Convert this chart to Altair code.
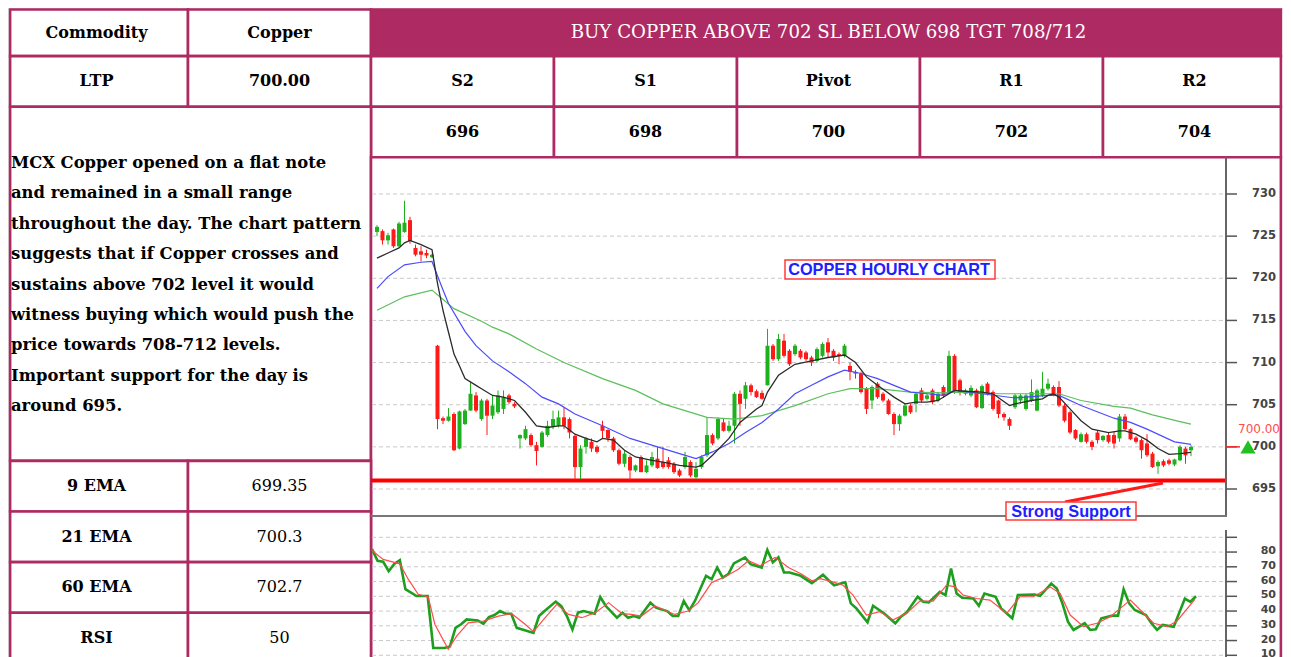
import altair as alt
import pandas as pd

# ---------------- data ----------------
OPEN = [725.5, 725.6, 724.5, 725.8, 723.8, 725.5, 726.9, 723.6, 723.2, 723.0,
        722.5, 712.0, 703.4, 703.1, 703.9, 699.8, 702.7, 704.3, 706.1, 703.3,
        705.5, 703.7, 704.1, 704.5, 706.1, 705.1, 701.0, 701.0, 701.4, 700.2,
        700.0, 701.4, 702.4, 702.5, 703.5, 703.3, 701.3, 697.6, 700.0, 700.6,
        700.0, 702.5, 702.0, 701.0, 699.6, 698.0, 698.8, 697.2, 698.8, 697.0,
        697.8, 698.6, 698.2, 698.4, 698.0, 697.2, 697.6, 698.2, 696.4, 697.6,
        699.0, 701.4, 701.0, 702.9, 701.9, 702.5, 706.3, 705.7, 707.3, 706.6,
        706.4, 707.3, 712.0, 710.4, 712.6, 711.4, 711.0, 711.4, 711.2, 710.6,
        710.2, 710.8, 712.4, 711.4, 711.0, 710.8, 709.6, 708.9, 708.7, 706.9,
        705.5, 707.5, 706.3, 705.5, 703.9, 702.7, 703.7, 704.9, 705.1, 706.7,
        705.7, 706.7, 705.5, 707.1, 706.5, 710.8, 707.9, 706.3, 706.1, 706.7,
        704.6, 707.5, 706.5, 705.5, 703.9, 703.3, 704.7, 705.5, 704.5, 705.5,
        704.3, 706.1, 706.9, 707.1, 707.1, 704.9, 704.1, 702.0, 700.6, 701.5,
        700.6, 701.7, 700.8, 701.4, 701.4, 701.0, 703.6, 702.1, 701.1, 700.8,
        700.4, 699.2, 697.7, 698.3, 698.4, 697.9, 698.4, 699.8, 699.6]
HIGH = [726.3, 725.8, 725.4, 725.9, 726.7, 729.2, 727.3, 724.0, 723.8, 723.4,
        722.9, 712.1, 703.6, 704.6, 704.1, 704.3, 704.5, 707.7, 706.5, 705.7,
        705.7, 706.1, 706.7, 706.7, 706.3, 705.3, 701.5, 702.5, 701.6, 700.6,
        701.9, 703.1, 704.3, 704.3, 704.7, 703.5, 701.5, 700.2, 701.2, 701.0,
        700.2, 703.1, 702.1, 701.2, 699.8, 699.6, 699.0, 697.9, 699.0, 698.4,
        699.4, 700.0, 700.0, 698.8, 698.2, 697.4, 699.4, 698.4, 698.2, 699.0,
        703.5, 701.6, 703.5, 703.3, 703.1, 706.5, 706.7, 707.7, 707.5, 706.8,
        706.7, 714.0, 712.2, 713.4, 713.4, 711.6, 712.2, 711.6, 711.4, 710.8,
        711.8, 712.4, 712.9, 711.6, 711.2, 712.2, 710.0, 709.1, 708.9, 707.1,
        707.3, 707.7, 706.5, 705.7, 704.1, 703.9, 705.1, 705.1, 706.5, 707.0,
        706.3, 706.9, 706.5, 707.3, 711.4, 711.0, 708.1, 706.9, 707.3, 706.9,
        707.4, 707.7, 706.7, 705.6, 704.1, 703.5, 706.3, 706.3, 706.3, 708.0,
        706.9, 708.9, 708.1, 707.3, 707.8, 705.1, 704.3, 702.1, 701.7, 701.7,
        700.8, 701.9, 701.4, 701.7, 701.8, 703.9, 703.9, 702.2, 701.3, 701.0,
        701.5, 699.4, 698.4, 698.5, 698.6, 698.6, 700.2, 700.0, 700.2]
LOW = [725.0, 724.0, 724.0, 723.6, 723.7, 725.4, 724.1, 722.6, 722.0, 722.4,
       722.4, 702.1, 702.7, 703.0, 699.5, 699.7, 702.6, 704.3, 704.1, 703.1,
       701.4, 703.3, 703.9, 703.9, 705.1, 704.6, 699.8, 700.8, 700.0, 697.8,
       699.9, 701.2, 702.1, 702.3, 702.1, 701.0, 696.2, 696.2, 699.2, 699.4,
       699.2, 701.0, 700.6, 699.4, 697.8, 697.6, 696.0, 697.0, 697.0, 696.9,
       697.6, 697.4, 697.4, 697.4, 696.8, 696.4, 697.4, 696.4, 696.2, 697.4,
       698.8, 700.2, 700.8, 701.8, 701.7, 700.4, 702.5, 704.5, 706.1, 705.8,
       705.6, 707.3, 710.2, 710.2, 710.6, 709.6, 710.8, 710.4, 710.2, 709.6,
       710.0, 710.6, 710.6, 710.2, 709.8, 710.6, 707.9, 708.1, 706.3, 703.9,
       704.5, 705.7, 705.3, 703.8, 701.4, 701.9, 703.6, 703.9, 704.1, 705.3,
       705.5, 705.1, 705.3, 705.8, 706.3, 706.3, 706.1, 706.1, 705.9, 704.6,
       704.5, 706.1, 704.3, 703.4, 703.1, 702.0, 704.5, 705.1, 704.3, 705.3,
       704.2, 705.9, 706.7, 706.0, 704.7, 702.9, 701.5, 700.8, 700.5, 700.4,
       699.6, 700.4, 700.6, 700.4, 699.8, 700.6, 702.0, 700.8, 700.4, 698.6,
       698.8, 697.5, 696.8, 697.6, 697.8, 697.7, 698.3, 698.0, 698.9]
CLOSE = [726.1, 724.5, 725.1, 723.8, 726.5, 726.6, 724.4, 722.8, 722.8, 722.7,
         722.8, 703.3, 703.1, 703.6, 699.6, 704.2, 704.3, 706.3, 704.3, 705.5,
         703.7, 704.9, 706.1, 705.9, 705.3, 704.8, 701.4, 702.1, 700.2, 699.5,
         701.7, 702.5, 703.3, 703.5, 702.5, 701.7, 697.6, 699.8, 701.0, 699.8,
         699.4, 701.9, 701.0, 699.6, 698.0, 699.2, 697.2, 697.8, 697.0, 697.8,
         698.8, 697.5, 697.6, 697.6, 697.0, 696.6, 698.8, 696.6, 697.4, 698.8,
         701.4, 700.4, 703.3, 701.9, 702.5, 706.3, 705.1, 707.3, 706.5, 705.9,
         705.7, 712.0, 710.4, 712.8, 710.8, 709.8, 712.0, 710.6, 710.4, 710.0,
         711.6, 712.2, 711.2, 710.6, 710.8, 712.0, 708.9, 708.7, 706.5, 704.5,
         707.1, 705.9, 705.5, 703.9, 702.7, 703.7, 704.9, 704.1, 706.3, 705.5,
         706.1, 705.3, 706.3, 706.1, 710.8, 706.7, 706.5, 706.7, 707.0, 704.7,
         707.2, 706.3, 704.5, 703.9, 703.5, 702.5, 706.1, 706.1, 706.1, 706.5,
         706.7, 706.9, 707.5, 706.1, 704.9, 703.1, 701.7, 701.0, 701.5, 700.6,
         700.0, 700.8, 701.3, 700.6, 700.4, 703.6, 702.1, 700.9, 700.6, 699.6,
         699.0, 697.6, 698.2, 697.8, 698.0, 698.5, 700.0, 699.0, 700.0]

EMA9_IDX = [0, 2, 4, 5, 6, 8, 10, 11, 12, 13, 14, 15, 16, 18, 19, 21, 23, 25, 27, 29,
            31, 33, 34, 36, 38, 40, 41, 43, 45, 47, 50, 52, 55, 58, 59, 61, 64, 66, 69, 70,
            71, 73, 76, 79, 82, 85, 87, 89, 91, 94, 96, 98, 100, 102, 104, 105, 107, 110, 112, 115,
            116, 119, 121, 122, 123, 124, 126, 128, 130, 133, 135, 136, 138, 140, 142, 144, 146, 148]
EMA9 = [722.4, 723.0, 723.6, 724.2, 724.5, 724.0, 723.4, 719.4, 716.2, 713.6, 711.0, 709.6, 708.1, 707.3, 706.9, 706.1, 705.9, 705.5, 704.1, 702.5,
        702.3, 702.5, 702.5, 701.5, 701.0, 700.6, 701.0, 700.8, 699.6, 698.8, 698.4, 698.2, 697.8, 697.6, 697.8, 699.0, 701.0, 702.9, 704.5, 704.9,
        706.5, 708.5, 709.8, 710.2, 710.6, 710.9, 710.0, 708.3, 707.3, 705.9, 705.1, 705.3, 705.3, 705.5, 706.3, 706.7, 706.6, 706.5, 706.3, 704.9,
        705.1, 705.5, 705.7, 706.1, 706.3, 705.9, 704.5, 703.1, 702.1, 701.7, 701.9, 701.9, 701.5, 700.8, 699.8, 699.1, 699.2, 699.35]

EMA21_IDX = [0, 2, 5, 8, 10, 11, 12, 13, 16, 18, 21, 24, 27, 30, 33, 36, 41, 46, 51, 55,
             58, 61, 64, 67, 70, 73, 76, 79, 82, 85, 88, 91, 94, 97, 100, 103, 105, 110, 116, 122,
             124, 128, 134, 137, 140, 145, 148]
EMA21 = [718.8, 720.2, 721.6, 721.9, 722.0, 720.3, 718.6, 717.0, 713.7, 712.0, 710.2, 708.9, 707.5, 705.9, 705.1, 703.9, 702.5, 701.0, 700.0, 699.2,
         698.6, 699.4, 700.4, 701.7, 702.9, 704.5, 706.3, 707.3, 708.3, 709.1, 708.7, 708.1, 707.3, 706.5, 706.3, 706.1, 706.7, 706.3, 705.8, 706.1,
         706.1, 704.9, 703.4, 702.9, 702.1, 700.6, 700.3]

EMA60_IDX = [0, 5, 10, 14, 19, 21, 24, 29, 34, 41, 47, 52, 56, 60, 65, 70, 76, 82, 86, 91,
             97, 103, 105, 113, 124, 128, 134, 137, 141, 146, 148]
EMA60 = [716.2, 717.8, 718.6, 716.4, 714.9, 714.2, 713.4, 711.6, 710.0, 708.1, 706.7, 705.1, 704.3, 703.5, 703.3, 703.7, 704.9, 706.3, 706.9, 706.9,
         706.5, 706.4, 706.5, 706.3, 706.3, 705.5, 704.8, 704.6, 703.8, 703.0, 702.7]

RSI_IDX = [0, 1, 2, 3, 4, 5, 6, 8, 10, 11, 13, 14, 15, 16, 17, 19, 20, 21, 22, 23,
           24, 25, 26, 27, 29, 30, 31, 33, 34, 35, 36, 37, 38, 40, 41, 42, 44, 45, 46, 47,
           48, 50, 51, 53, 54, 55, 56, 57, 58, 60, 61, 62, 63, 64, 65, 67, 68, 70, 71, 72,
           73, 74, 75, 77, 79, 81, 82, 83, 85, 86, 87, 89, 90, 92, 94, 95, 96, 98, 99, 100,
           102, 103, 104, 105, 106, 108, 109, 110, 112, 113, 115, 116, 119, 120, 122, 123, 124, 125, 126, 128,
           129, 130, 131, 133, 134, 135, 136, 137, 139, 140, 141, 142, 144, 146, 147, 148]
RSI = [82, 74, 73.4, 67, 72, 74.5, 54.8, 50.2, 50.2, 15, 15, 16, 28.6, 31, 34.3, 33.6, 31.4, 35.9, 37.3, 40,
       38.2, 38.2, 28.6, 27.5, 25.2, 36.6, 40, 46.4, 43.4, 36.6, 27.5, 38.9, 40, 38.2, 49.5, 43.4, 35.5, 38.9, 35.5, 36.6,
       35.5, 45.7, 42.3, 40, 36.6, 36.6, 46.8, 40.5, 46.8, 63.9, 61.6, 69.5, 62.7, 65, 72.3, 76.4, 71.8, 69.5, 81.4, 73,
       76.4, 66.1, 66.1, 63.9, 58.9, 64.7, 60.9, 57.5, 59.5, 45.2, 41.8, 32.4, 43.6, 38.4, 31.7, 36.2, 38.9, 49.7, 46.3, 45.8,
       53, 50.8, 68.8, 51.9, 49, 48.5, 43.6, 51.9, 49.7, 41.8, 35.1, 50.8, 51.2, 50.3, 58.7, 55.3, 45.2, 32.8, 27.2, 31.7,
       27.2, 27.6, 35.1, 36.9, 36.9, 54.8, 45.2, 40.7, 37.3, 31.7, 27.2, 30.6, 29.4, 48.5, 46.3, 50]

RSI_SIG_IDX = [0, 2, 5, 6.5, 8.3, 10.1, 11.3, 13.7, 15.2, 17.3, 20, 22.7, 25.1, 27.5, 29, 31.1, 33.2, 35.3, 37.7, 40.1,
               42.5, 44.9, 46.6, 48.4, 50.8, 54.4, 56.8, 58.6, 61, 63.4, 65.8, 67.6, 69.7, 72.4, 74.8, 77.2, 79, 80.5, 82.8, 84.6,
               86.4, 88.8, 91.2, 93.6, 96, 98.4, 100.8, 103.2, 104.7, 106.2, 108.6, 111, 114, 116.4, 118.8, 121.8, 123.6, 125.4, 127.8, 130.2,
               132.6, 134.4, 136.2, 138, 140.4, 142.8, 144.6, 147.8]
RSI_SIG = [81, 75, 72, 61.6, 51.4, 49.5, 30.9, 14, 23, 32, 33.2, 36.6, 38.2, 31, 26, 35.5, 44.5, 37.7, 35.5, 38.9,
           45.7, 38.2, 37.7, 36.6, 43.4, 37.7, 40, 45.7, 59.3, 63.2, 68.4, 74.1, 70.7, 76.4, 69.5, 65, 60.5, 62, 59.8, 57.5,
           50.8, 37.3, 39.6, 34, 38.4, 46.7, 46.7, 57.5, 56.4, 50.8, 48.5, 47.4, 38.4, 49.7, 49.7, 56.4, 51.9, 37.3, 29.4, 31.7,
           36.2, 41.8, 47.4, 40.7, 31.7, 29.4, 33.3, 47.9]

PRICE_TICKS = [695, 700, 705, 710, 715, 720, 725, 730]
RSI_GRID = [10, 20, 30, 40, 50, 60, 70, 80, 90]
RSI_LABELS = [10, 20, 30, 40, 50, 60, 70, 80]
SUPPORT_LEVEL = 696
LTP = 700.00

HEADER = "BUY COPPER ABOVE 702 SL BELOW 698 TGT 708/712"
TOP_LABELS = ["Commodity", "Copper", "LTP", "700.00"]
LEVEL_NAMES = ["S2", "S1", "Pivot", "R1", "R2"]
LEVEL_VALUES = ["696", "698", "700", "702", "704"]
IND_NAMES = ["9 EMA", "21 EMA", "60 EMA", "RSI"]
IND_VALUES = ["699.35", "700.3", "702.7", "50"]
PARAGRAPH = [
    "MCX Copper opened on a flat note",
    "and remained in a small range",
    "throughout the day. The chart pattern",
    "suggests that if Copper crosses and",
    "sustains above 702 level it would",
    "witness buying which would push the",
    "price towards 708-712 levels.",
    "Important support for the day is",
    "around 695.",
]
CHART_TITLE = "COPPER HOURLY CHART"
SUPPORT_TEXT = "Strong Support"

# ---------------- layout / style ----------------
S = 8  # page margin: canvas px = page px - 8


def P(v):
    return v - S


W, H = 1275, 649
MAG = "#AE2A62"
SERIF = "DejaVu Serif"
SANS = "DejaVu Sans"
UP, DOWN = "#1fb01f", "#ff1a1a"

# table grid (columns 0..7, rows 0..13); outer edges pulled inside the canvas
LEFT_EDGE, RIGHT_EDGE, TOP_EDGE = 0.028, 6.972, 0.08
gx = alt.Scale(domain=[0, 7], range=[P(5), P(1286)], nice=False, zero=False)
gy = alt.Scale(domain=[0, 13], range=[P(5.5), P(5.5 + 13 * 50.6)], nice=False, zero=False)
ix = alt.Scale(domain=[0, 148], range=[P(372), P(1196)], nice=False, zero=False)
py = alt.Scale(domain=[695, 730], range=[P(489), P(194)], nice=False, zero=False)
ry = alt.Scale(domain=[10, 90], range=[P(655.3), P(537.3)], nice=False, zero=False)

one = pd.DataFrame({"a": [0]})

# ---------------- table ----------------
cells = []


def cell(c0, c1, r0, r1, fill="white"):
    cells.append(dict(c0=c0, c1=c1, r0=r0, r1=r1, fill=fill))


cell(LEFT_EDGE, 1, TOP_EDGE, 1); cell(1, 2, TOP_EDGE, 1); cell(2, RIGHT_EDGE, TOP_EDGE, 1, MAG)
cell(LEFT_EDGE, 1, 1, 2); cell(1, 2, 1, 2)
for k in range(5):
    cell(2 + k, min(3 + k, RIGHT_EDGE), 1, 2)
    cell(2 + k, min(3 + k, RIGHT_EDGE), 2, 3)
cell(LEFT_EDGE, 2, 2, 9)
cell(2, RIGHT_EDGE, 3, 13.5)
for k in range(4):
    cell(LEFT_EDGE, 1, 9 + k, 10 + k)
    cell(1, 2, 9 + k, 10 + k)
cells_df = pd.DataFrame(cells)

table_rects = alt.Chart(cells_df).mark_rect(stroke=MAG, strokeWidth=2.6).encode(
    x=alt.X("c0:Q", scale=gx, axis=None), x2="c1:Q",
    y=alt.Y("r0:Q", scale=gy, axis=None), y2="r1:Q",
    fill=alt.Fill("fill:N", scale=None),
)

bold_rows = [
    (0.5, 0.54, TOP_LABELS[0]), (1.5, 0.54, TOP_LABELS[1]),
    (0.5, 1.5, TOP_LABELS[2]), (1.5, 1.5, TOP_LABELS[3]),
]
for k in range(5):
    bold_rows.append((2.5 + k, 1.5, LEVEL_NAMES[k]))
    bold_rows.append((2.5 + k, 2.5, LEVEL_VALUES[k]))
for k in range(4):
    bold_rows.append((0.5, 9.5 + k, IND_NAMES[k]))
bold_df = pd.DataFrame(bold_rows, columns=["cx", "cy", "t"])
norm_df = pd.DataFrame([(1.5, 9.5 + k, IND_VALUES[k]) for k in range(4)], columns=["cx", "cy", "t"])
head_df = pd.DataFrame([(4.5, 0.54, HEADER)], columns=["cx", "cy", "t"])


def table_text(df, weight, color, size):
    return alt.Chart(df).mark_text(
        font=SERIF, fontSize=size, fontWeight=weight, color=color,
        align="center", baseline="middle",
    ).encode(
        x=alt.X("cx:Q", scale=gx, axis=None),
        y=alt.Y("cy:Q", scale=gy, axis=None),
        text="t:N",
    )


para = alt.Chart(pd.DataFrame({"t": ["\n".join(PARAGRAPH)]})).mark_text(
    font=SERIF, fontSize=16.4, fontWeight="bold", color="black",
    align="left", baseline="alphabetic", lineBreak="\n", lineHeight=30.4,
).encode(x=alt.value(P(11)), y=alt.value(P(168)), text="t:N")

table_layer = alt.layer(
    table_rects,
    table_text(bold_df, "bold", "black", 16),
    table_text(norm_df, "normal", "black", 16),
    table_text(head_df, "normal", "white", 18.2),
    para,
)

# ---------------- price panel ----------------
candles = pd.DataFrame({"idx": list(range(len(OPEN))), "open": OPEN, "high": HIGH, "low": LOW, "close": CLOSE})
candles["dir"] = ["up" if c >= o else "down" for o, c in zip(OPEN, CLOSE)]
dir_color = alt.Color("dir:N", scale=alt.Scale(domain=["up", "down"], range=[UP, DOWN]), legend=None)

price_grid = alt.Chart(pd.DataFrame({"p": PRICE_TICKS})).mark_rule(
    color="#c9c9c9", strokeDash=[4, 3], strokeWidth=1
).encode(y=alt.Y("p:Q", scale=py, axis=None), x=alt.value(P(372)), x2=alt.value(P(1226)))

wicks = alt.Chart(candles).mark_rule(strokeWidth=1).encode(
    x=alt.X("idx:Q", scale=ix, axis=None),
    y=alt.Y("low:Q", scale=py, axis=None), y2="high:Q",
    color=dir_color,
)
bodies = alt.Chart(candles).mark_bar(size=4).encode(
    x=alt.X("idx:Q", scale=ix, axis=None),
    y=alt.Y("open:Q", scale=py, axis=None), y2="close:Q",
    color=dir_color,
)


def ema_line(idx, vals, color, width):
    return alt.Chart(pd.DataFrame({"idx": idx, "v": vals})).mark_line(
        color=color, strokeWidth=width
    ).encode(x=alt.X("idx:Q", scale=ix, axis=None), y=alt.Y("v:Q", scale=py, axis=None))


support = alt.Chart(pd.DataFrame({"v": [SUPPORT_LEVEL]})).mark_rule(
    color="#ff0000", strokeWidth=4
).encode(y=alt.Y("v:Q", scale=py, axis=None), x=alt.value(P(371)), x2=alt.value(P(1226)))

price_axis_line = alt.Chart(one).mark_rule(color="#666666", strokeWidth=2).encode(
    x=alt.value(P(1226)), y=alt.value(P(157)), y2=alt.value(P(516))
)
price_bottom = alt.Chart(one).mark_rule(color="#777777", strokeWidth=2).encode(
    x=alt.value(P(371)), x2=alt.value(P(1227)), y=alt.value(P(516))
)
price_ticks = alt.Chart(pd.DataFrame({"p": PRICE_TICKS})).mark_rule(color="#555555", strokeWidth=1.5).encode(
    y=alt.Y("p:Q", scale=py, axis=None), x=alt.value(P(1226)), x2=alt.value(P(1237))
)
price_labels = alt.Chart(pd.DataFrame({"p": PRICE_TICKS})).mark_text(
    font=SANS, fontSize=11.5, fontWeight="bold", color="#444444", align="right", baseline="middle"
).encode(y=alt.Y("p:Q", scale=py, axis=None), x=alt.value(P(1276)), text="p:Q")

ltp_df = pd.DataFrame({"v": [LTP]})
ltp_tick = alt.Chart(ltp_df).mark_rule(color="#ff2a2a", strokeWidth=1.5).encode(
    y=alt.Y("v:Q", scale=py, axis=None), x=alt.value(P(1226)), x2=alt.value(P(1240))
)
ltp_text = alt.Chart(ltp_df).mark_text(
    font=SANS, fontSize=12, color="#ff4d4d", align="right", baseline="middle", dy=-18
).encode(y=alt.Y("v:Q", scale=py, axis=None), x=alt.value(P(1280)), text=alt.Text("v:Q", format=".2f"))
ltp_tri = alt.Chart(ltp_df).mark_point(
    shape="triangle-up", filled=True, color="#22c022", size=230, opacity=1
).encode(y=alt.Y("v:Q", scale=py, axis=None), x=alt.value(P(1248)))

price_layer = alt.layer(
    price_grid, support, wicks, bodies,
    ema_line(EMA60_IDX, EMA60, "#5cbf5c", 1.2),
    ema_line(EMA21_IDX, EMA21, "#4b4bff", 1.2),
    ema_line(EMA9_IDX, EMA9, "#2b2b2b", 1.3),
    price_axis_line, price_bottom, price_ticks, price_labels,
    ltp_tick, ltp_text, ltp_tri,
)

# ---------------- RSI panel ----------------
rsi_grid = alt.Chart(pd.DataFrame({"r": RSI_GRID})).mark_rule(
    color="#c9c9c9", strokeDash=[4, 3], strokeWidth=1
).encode(y=alt.Y("r:Q", scale=ry, axis=None), x=alt.value(P(372)), x2=alt.value(P(1226)))
rsi_axis_line = alt.Chart(one).mark_rule(color="#666666", strokeWidth=2).encode(
    x=alt.value(P(1226)), y=alt.value(P(530)), y2=alt.value(P(665))
)
rsi_ticks = alt.Chart(pd.DataFrame({"r": RSI_GRID})).mark_rule(color="#555555", strokeWidth=1.5).encode(
    y=alt.Y("r:Q", scale=ry, axis=None), x=alt.value(P(1226)), x2=alt.value(P(1237))
)
rsi_labels = alt.Chart(pd.DataFrame({"r": RSI_LABELS})).mark_text(
    font=SANS, fontSize=11, fontWeight="bold", color="#444444", align="right", baseline="middle", dy=-1
).encode(y=alt.Y("r:Q", scale=ry, axis=None), x=alt.value(P(1276)), text="r:Q")
rsi_sig = alt.Chart(pd.DataFrame({"idx": RSI_SIG_IDX, "v": RSI_SIG})).mark_line(
    color="#ff4d4d", strokeWidth=1.2
).encode(x=alt.X("idx:Q", scale=ix, axis=None), y=alt.Y("v:Q", scale=ry, axis=None))
rsi_line = alt.Chart(pd.DataFrame({"idx": RSI_IDX, "v": RSI})).mark_line(
    color="#1e9e1e", strokeWidth=2.6
).encode(x=alt.X("idx:Q", scale=ix, axis=None), y=alt.Y("v:Q", scale=ry, axis=None))

rsi_layer = alt.layer(rsi_grid, rsi_axis_line, rsi_ticks, rsi_labels, rsi_line, rsi_sig)

# ---------------- annotations ----------------
title_box = alt.Chart(one).mark_rect(fill="white", stroke="#ff3b3b", strokeWidth=1.5).encode(
    x=alt.value(P(785)), x2=alt.value(P(995)), y=alt.value(P(260)), y2=alt.value(P(279))
)
title_txt = alt.Chart(pd.DataFrame({"t": [CHART_TITLE]})).mark_text(
    font="Liberation Sans", fontSize=16.3, fontWeight="bold", color="#2020ff", align="center", baseline="middle"
).encode(x=alt.value(P(889)), y=alt.value(P(270)), text="t:N")
arrow = alt.Chart(one).mark_rule(color="#ff1a1a", strokeWidth=3).encode(
    x=alt.value(P(1065)), y=alt.value(P(502)), x2=alt.value(P(1163)), y2=alt.value(P(483))
)
sup_box = alt.Chart(one).mark_rect(fill="white", stroke="#ff3b3b", strokeWidth=1.5).encode(
    x=alt.value(P(1006)), x2=alt.value(P(1136)), y=alt.value(P(502)), y2=alt.value(P(520))
)
sup_txt = alt.Chart(pd.DataFrame({"t": [SUPPORT_TEXT]})).mark_text(
    font="Liberation Sans", fontSize=16.3, fontWeight="bold", color="#2020ff", align="center", baseline="middle"
).encode(x=alt.value(P(1071)), y=alt.value(P(511.5)), text="t:N")

annot_layer = alt.layer(title_box, title_txt, arrow, sup_box, sup_txt)

chart = alt.layer(table_layer, price_layer, rsi_layer, annot_layer).resolve_scale(
    x="independent", y="independent", color="independent"
).properties(
    width=W, height=H, padding=0, autosize=alt.AutoSizeParams(type="none"),
).configure_view(stroke=None).configure(background="white")

chart.save("out.html", embed_options={"renderer": "svg", "actions": False})
